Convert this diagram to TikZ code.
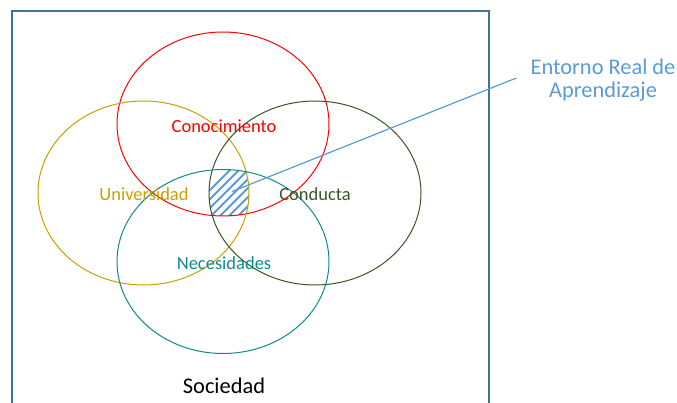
\documentclass[tikz,border=0pt]{standalone}
\usepackage{fontspec}
\setmainfont{Carlito}

\definecolor{framecol}{HTML}{41719C}
\definecolor{concol}{HTML}{FF0000}
\definecolor{unicol}{HTML}{C9A000}
\definecolor{condcol}{HTML}{3A5526}
\definecolor{neccol}{HTML}{0F8A8A}
\definecolor{entcol}{HTML}{5B9BD5}

\begin{document}
\begin{tikzpicture}[x=1pt,y=-1pt,
  ring/.style={line width=1pt},
  lbl/.style={font=\fontsize{18.5}{22}\selectfont,inner sep=0pt},
  big/.style={font=\fontsize{22.4}{23.5}\selectfont,align=center,inner sep=3pt}]

\useasboundingbox (0,0) rectangle (677,403);
\draw[framecol,line width=1.3pt] (12,420) -- (12,11) -- (489,11) -- (489,420);

\begin{scope}
  \clip (223,124) ellipse [x radius=106,y radius=92];
  \clip (143.5,193) ellipse [x radius=105.5,y radius=92];
  \clip (315,193) ellipse [x radius=106,y radius=92];
  \clip (223,261.5) ellipse [x radius=106,y radius=92];
  \foreach \k in {0,...,12}
    \draw[entcol,line width=1.8pt] (160+9*\k,240) -- +(90,-90);
\end{scope}

\draw[ring,concol] (223,124) ellipse [x radius=106,y radius=92];
\draw[ring,unicol] (143.5,193) ellipse [x radius=105.5,y radius=92];
\draw[ring,condcol] (315,193) ellipse [x radius=106,y radius=92];
\draw[ring,neccol] (223,261.5) ellipse [x radius=106,y radius=92];

\node[lbl,text=concol] (l_con) at (224,126) {Conocimiento};
\node[lbl,text=unicol] (l_uni) at (144,194) {Universidad};
\node[lbl,text=condcol] (l_cond) at (315,194) {Conducta};
\node[lbl,text=neccol] (l_nec) at (224,263) {Necesidades};
\node[big] (l_soc) at (224,386) {Sociedad};
\node[big,text=entcol] (entorno) at (603,80) {Entorno Real de\\Aprendizaje};

\coordinate (hatch) at (232,191.5);
\draw[entcol,line width=1.2pt] (hatch) -- ([xshift=-11pt,yshift=2pt]entorno.west);

\end{tikzpicture}
\end{document}
